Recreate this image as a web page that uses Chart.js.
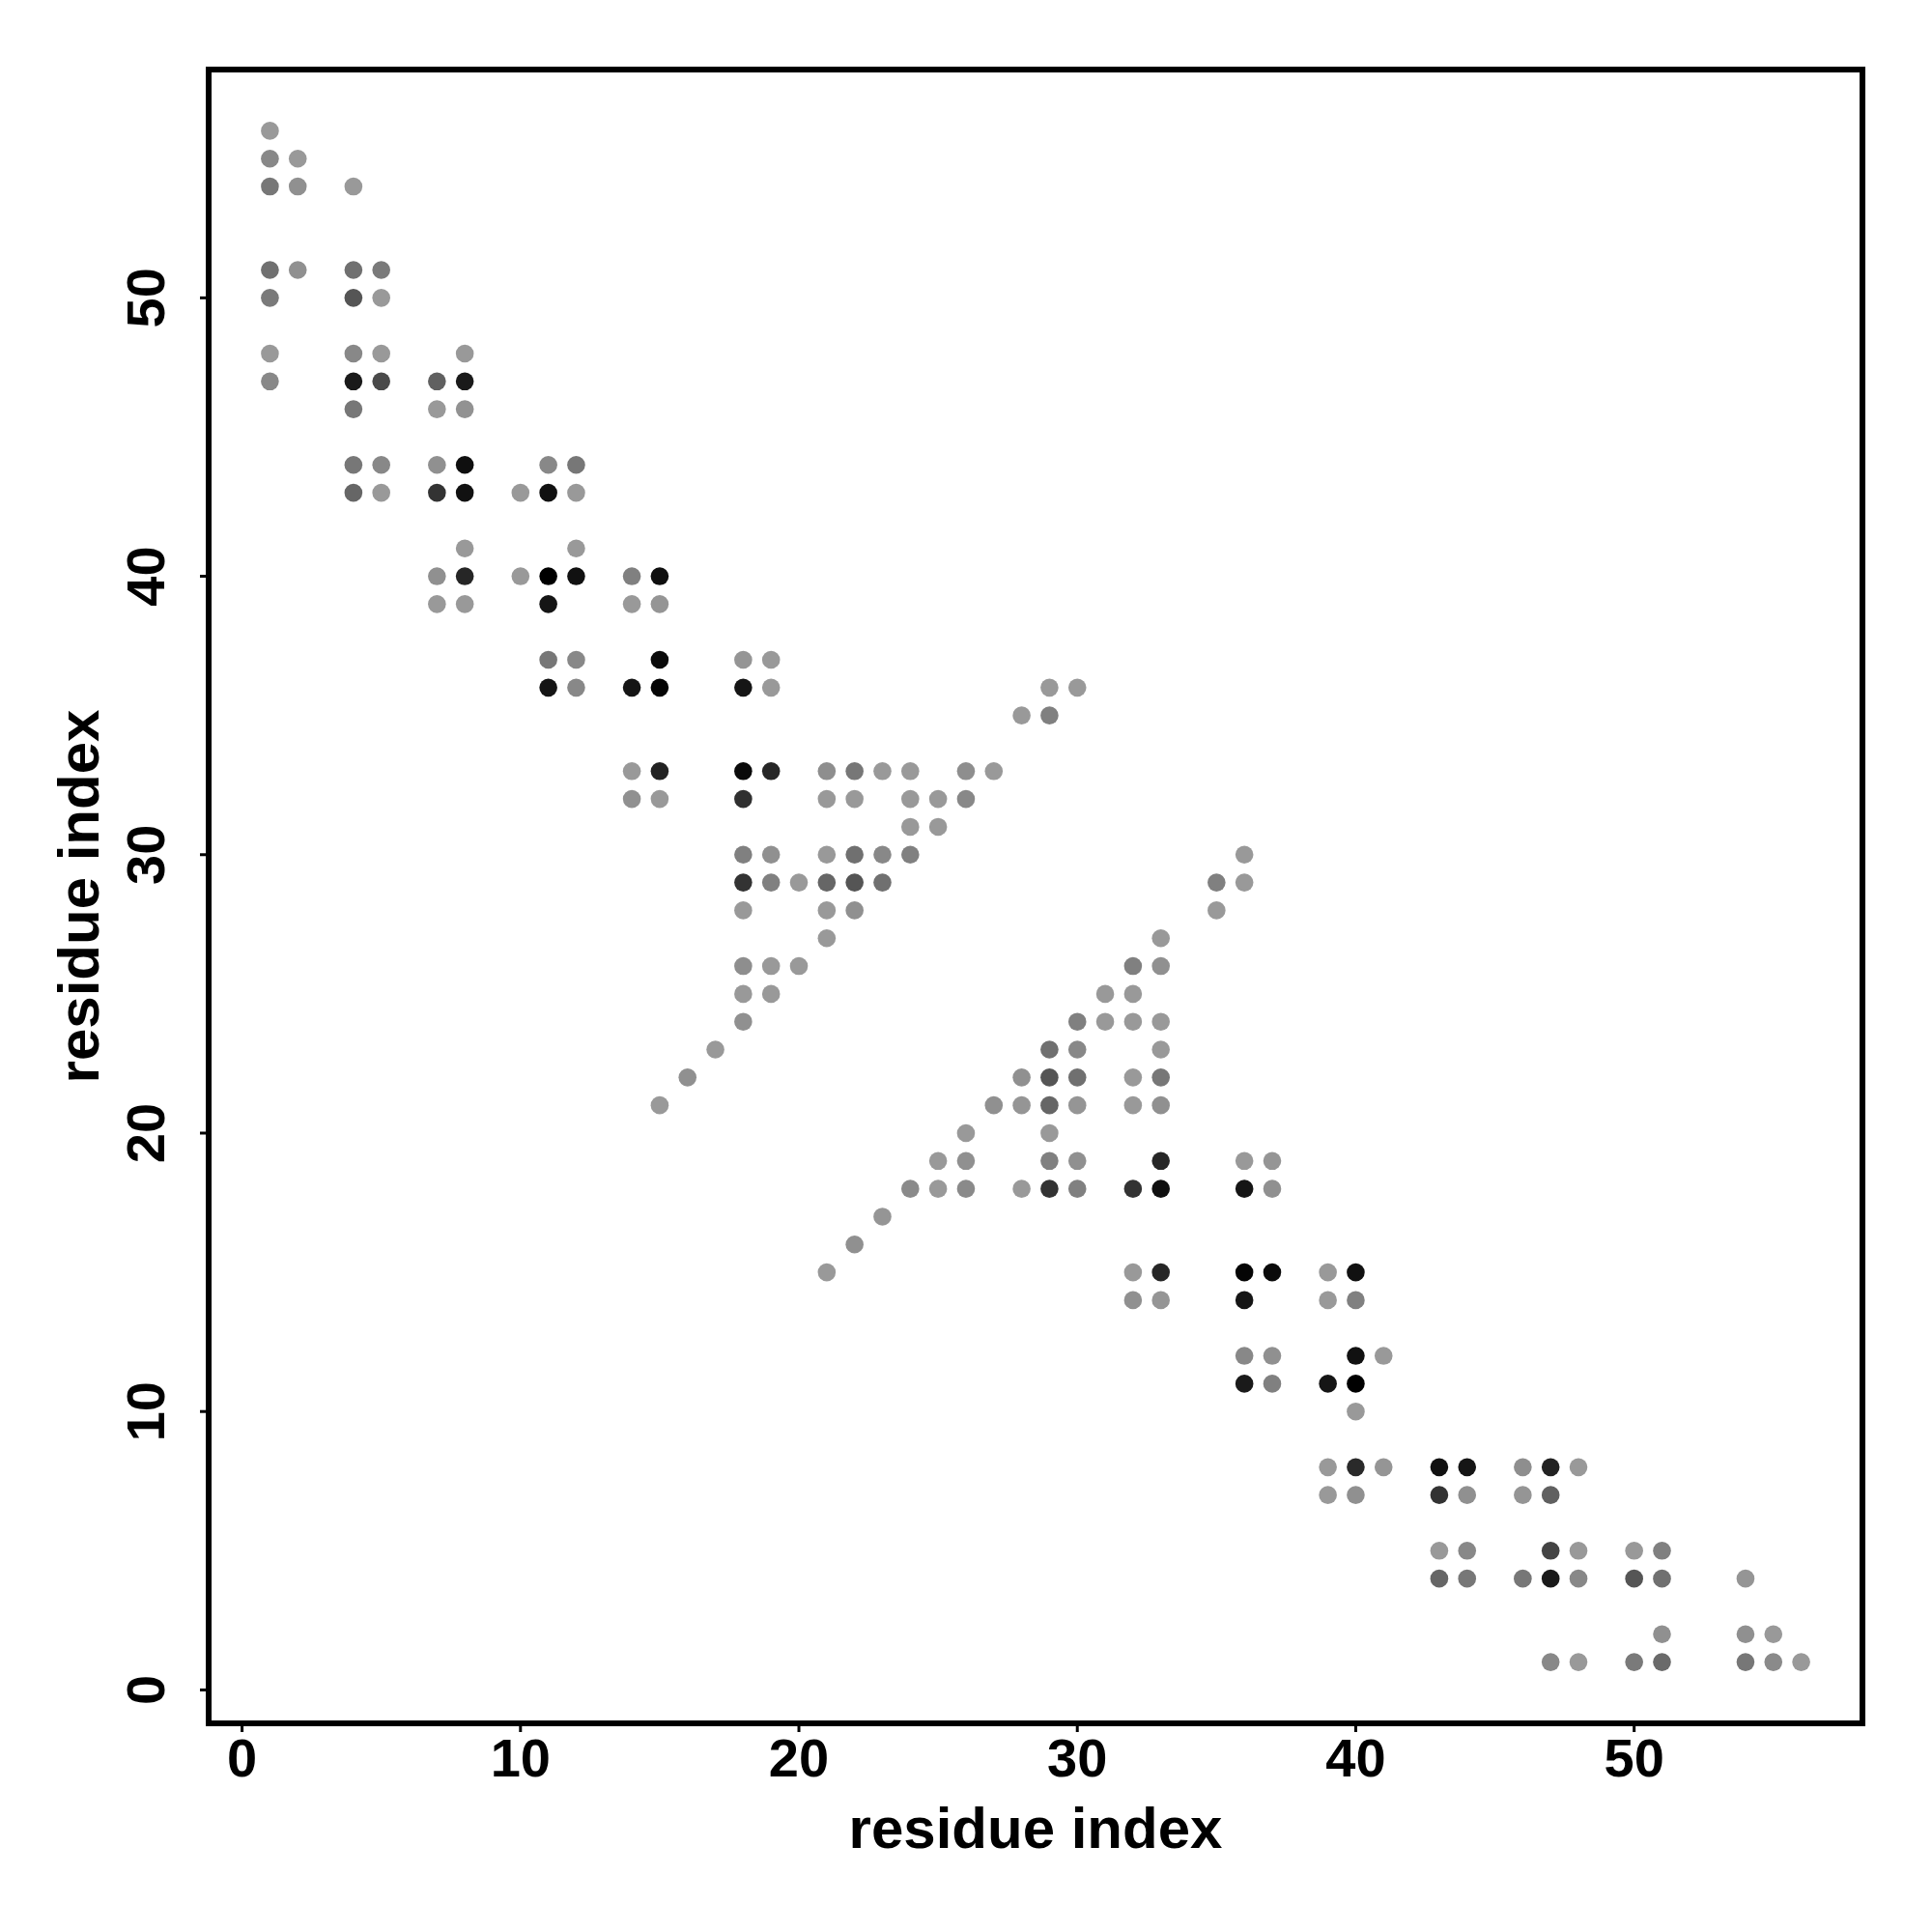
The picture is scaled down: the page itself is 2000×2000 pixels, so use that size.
<!DOCTYPE html>
<html>
<head>
<meta charset="utf-8">
<script src="https://cdn.jsdelivr.net/npm/chart.js@4.4.0/dist/chart.umd.min.js"></script>
<style>
  html, body { margin: 0; padding: 0; background: #fff; }
  #wrap { width: 2000px; height: 2000px; }
</style>
</head>
<body>
<div id="wrap"><canvas id="contactMap" width="2000" height="2000"></canvas></div>
<script>
// contact map: one row per residue j, listing partner residues i and the grey level of each dot
const rowJ = [56, 55, 54, 51, 50, 48, 47, 46, 44, 43, 41, 40, 39, 37, 36, 35, 33, 32, 31, 30,
  29, 28, 27, 26, 25, 24, 23, 22, 21, 20, 19, 18, 17, 16, 15, 14, 12, 11, 10, 8, 7, 5, 4, 2, 1];
const rowI = [
  [1], [1, 2], [1, 2, 4], [1, 2, 4, 5], [1, 4, 5], [1, 4, 5, 8], [1, 4, 5, 7, 8], [4, 7, 8],
  [4, 5, 7, 8, 11, 12], [4, 5, 7, 8, 10, 11, 12], [8, 12], [7, 8, 10, 11, 12, 14, 15],
  [7, 8, 11, 14, 15], [11, 12, 15, 18, 19], [11, 12, 14, 15, 18, 19, 29, 30], [28, 29],
  [14, 15, 18, 19, 21, 22, 23, 24, 26, 27], [14, 15, 18, 21, 22, 24, 25, 26], [24, 25],
  [18, 19, 21, 22, 23, 24, 36], [18, 19, 20, 21, 22, 23, 35, 36], [18, 21, 22, 35], [21, 33],
  [18, 19, 20, 32, 33], [18, 19, 31, 32], [18, 30, 31, 32, 33], [17, 29, 30, 33],
  [16, 28, 29, 30, 32, 33], [15, 27, 28, 29, 30, 32, 33], [26, 29], [25, 26, 29, 30, 33, 36, 37],
  [24, 25, 26, 28, 29, 30, 32, 33, 36, 37], [23], [22], [21, 32, 33, 36, 37, 39, 40],
  [32, 33, 36, 39, 40], [36, 37, 40, 41], [36, 37, 39, 40], [40],
  [39, 40, 41, 43, 44, 46, 47, 48], [39, 40, 43, 44, 46, 47], [43, 44, 47, 48, 50, 51],
  [43, 44, 46, 47, 48, 50, 51, 54], [51, 54, 55], [47, 48, 50, 51, 54, 55, 56]
];
// grey level 0 (black) .. 255 (white)
const rowShade = [
  [153], [136, 153], [119, 144, 153], [112, 144, 112, 122], [122, 85, 153], [153, 136, 153, 153],
  [136, 26, 74, 96, 26], [119, 153, 146], [119, 136, 144, 15, 136, 119],
  [102, 153, 51, 17, 153, 17, 153], [153, 153], [144, 38, 153, 0, 17, 128, 15],
  [153, 153, 21, 153, 149], [119, 136, 10, 149, 153], [21, 136, 21, 5, 21, 153, 153, 153], [153, 128],
  [153, 34, 10, 38, 142, 119, 153, 153, 142, 153], [144, 153, 48, 153, 153, 153, 153, 136], [153, 153],
  [128, 144, 153, 112, 136, 128, 153], [51, 128, 153, 102, 85, 112, 128, 153], [153, 153, 144, 153],
  [153, 153], [142, 153, 153, 128, 144], [153, 153, 153, 153], [144, 128, 153, 153, 153],
  [153, 112, 136, 153], [144, 144, 85, 112, 153, 119], [153, 144, 149, 102, 149, 153, 144], [153, 153],
  [153, 144, 128, 144, 38, 153, 149], [138, 153, 138, 153, 51, 128, 51, 15, 21, 144], [149], [144],
  [153, 153, 38, 5, 10, 153, 17], [144, 149, 21, 153, 128], [136, 144, 17, 153], [26, 128, 21, 0], [153],
  [153, 42, 149, 17, 21, 142, 34, 153], [153, 144, 51, 144, 149, 96], [153, 136, 68, 153, 153, 128],
  [102, 119, 119, 26, 136, 85, 112, 149], [144, 144, 153], [136, 153, 122, 106, 119, 138, 153]
];
const tickValues = [0, 10, 20, 30, 40, 50];
const axisTitle = 'residue index';
const axisMin = -1.2;
const axisMax = 58.2;

const points = [];
const colors = [];
rowJ.forEach((j, r) => {
  rowI[r].forEach((i, k) => {
    points.push({ x: i, y: j });
    const g = rowShade[r][k];
    colors.push(`rgb(${g},${g},${g})`);
  });
});

const FONT = '"Liberation Sans", Arial, Helvetica, sans-serif';

// R-style box, ticks and labels
const boxAxes = {
  id: 'boxAxes',
  afterDraw(chart) {
    const { ctx, chartArea: a, scales: { x, y } } = chart;
    ctx.save();
    ctx.strokeStyle = '#000';
    ctx.fillStyle = '#000';
    ctx.lineWidth = 6;
    ctx.lineJoin = 'miter';
    ctx.strokeRect(a.left, a.top, a.right - a.left, a.bottom - a.top);

    ctx.lineWidth = 3;
    ctx.font = `bold 56px ${FONT}`;
    ctx.textAlign = 'center';
    ctx.textBaseline = 'alphabetic';
    tickValues.forEach(v => {
      const px = x.getPixelForValue(v);
      ctx.beginPath();
      ctx.moveTo(px, a.bottom);
      ctx.lineTo(px, a.bottom + 9);
      ctx.stroke();
      ctx.fillText(String(v), px, a.bottom + 55);

      const py = y.getPixelForValue(v);
      ctx.beginPath();
      ctx.moveTo(a.left, py);
      ctx.lineTo(a.left - 9, py);
      ctx.stroke();
      ctx.save();
      ctx.translate(a.left - 46, py);
      ctx.rotate(-Math.PI / 2);
      ctx.fillText(String(v), 0, 0);
      ctx.restore();
    });

    ctx.font = `bold 60px ${FONT}`;
    ctx.fillText(axisTitle, (a.left + a.right) / 2, a.bottom + 129);
    ctx.save();
    ctx.translate(a.left - 114, (a.top + a.bottom) / 2);
    ctx.rotate(-Math.PI / 2);
    ctx.fillText(axisTitle, 0, 0);
    ctx.restore();
    ctx.restore();
  }
};

new Chart(document.getElementById('contactMap').getContext('2d'), {
  type: 'scatter',
  data: {
    datasets: [{
      data: points,
      backgroundColor: colors,
      borderWidth: 0,
      pointRadius: 9.3,
      pointHoverRadius: 9.3
    }]
  },
  options: {
    responsive: false,
    animation: false,
    devicePixelRatio: 1,
    layout: { padding: { left: 216, right: 72, top: 72, bottom: 216 } },
    scales: {
      x: { type: 'linear', min: axisMin, max: axisMax, display: false },
      y: { type: 'linear', min: axisMin, max: axisMax, display: false }
    },
    plugins: { legend: { display: false }, tooltip: { enabled: false } },
    events: []
  },
  plugins: [boxAxes]
});
</script>
</body>
</html>
